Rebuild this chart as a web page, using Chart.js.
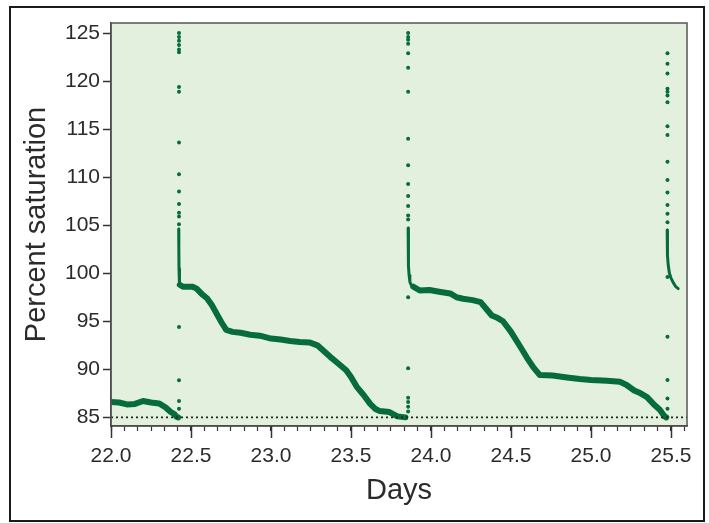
<!DOCTYPE html>
<html>
<head>
<meta charset="utf-8">
<script src="https://cdn.jsdelivr.net/npm/chart.js@4.4.1/dist/chart.umd.min.js"></script>
<style>
  html, body { margin: 0; padding: 0; background: #fff; }
  #wrap { width: 709px; height: 523px; }
</style>
</head>
<body>
<div id="wrap"><canvas id="chart" width="709" height="523"></canvas></div>
<script>
// axis setup
const xMin = 22.0;
const xMax = 25.6;
const yMin = 84.1;
const yMax = 126.05;
const xMajorTicks = [22.0, 22.5, 23.0, 23.5, 24.0, 24.5, 25.0, 25.5];
const yTicks = [85, 90, 95, 100, 105, 110, 115, 120, 125];
const refLevel = 85;

// thick trace: before first spike
const daysA = [22.0, 22.05, 22.1, 22.15, 22.2, 22.25, 22.3, 22.34, 22.37, 22.395, 22.41, 22.42];
const satA = [86.6, 86.55, 86.35, 86.4, 86.7, 86.55, 86.45, 86.05, 85.6, 85.35, 85.05, 85.0];

// thick trace: between spike 1 and spike 2
const daysB = [22.43, 22.45, 22.51, 22.535, 22.57, 22.6, 22.63, 22.66, 22.69, 22.72, 22.76, 22.81,
  22.87, 22.93, 23.0, 23.06, 23.12, 23.18, 23.24, 23.29, 23.33, 23.37, 23.42, 23.47, 23.5,
  23.535, 23.58, 23.62, 23.65, 23.68, 23.74, 23.79, 23.84];
const satB = [98.8, 98.6, 98.6, 98.4, 97.8, 97.4, 96.7, 95.8, 94.9, 94.1, 93.9, 93.8,
  93.6, 93.5, 93.2, 93.1, 92.95, 92.85, 92.8, 92.5, 91.9, 91.3, 90.6, 89.9, 89.2,
  88.2, 87.3, 86.4, 85.9, 85.65, 85.55, 85.1, 85.0];

// thick trace: between spike 2 and spike 3
const daysC = [23.89, 23.93, 23.99, 24.06, 24.12, 24.16, 24.2, 24.26, 24.31, 24.35, 24.38, 24.41,
  24.45, 24.5, 24.56, 24.6, 24.64, 24.68, 24.76, 24.85, 24.93, 25.0, 25.1, 25.18, 25.22,
  25.27, 25.31, 25.35, 25.39, 25.43, 25.46, 25.47];
const satC = [98.6, 98.2, 98.25, 98.05, 97.9, 97.5, 97.35, 97.2, 97.0, 96.2, 95.6, 95.4,
  95.0, 93.9, 92.3, 91.2, 90.2, 89.4, 89.35, 89.15, 89.0, 88.9, 88.8, 88.7, 88.4,
  87.8, 87.5, 87.1, 86.4, 85.8, 85.1, 85.0];

// dense stems of the spikes (thinner)
const stemDays1 = [22.423, 22.424, 22.425, 22.426, 22.43, 22.44];
const stemSat1 = [104.6, 102.5, 100.5, 99.2, 98.8, 98.6];
const stemDays2 = [23.857, 23.858, 23.86, 23.863, 23.868, 23.878, 23.89];
const stemSat2 = [104.7, 102.5, 100.8, 99.8, 99.1, 98.7, 98.5];
const stemDays3 = [25.476, 25.477, 25.479, 25.483, 25.49, 25.5, 25.515, 25.53, 25.545];
const stemSat3 = [104.5, 103.0, 101.8, 100.8, 100.0, 99.5, 99.0, 98.6, 98.4];

// isolated readings on the spikes
const spikeDay1 = 22.425;
const spikeSat1 = [125.0, 124.6, 124.2, 123.75, 123.3, 123.0, 119.4, 118.9, 113.6, 110.3, 108.5,
  107.2, 106.3, 105.9, 105.1, 94.4, 88.85, 86.7, 85.9];
const spikeDay2 = 23.857;
const spikeSat2 = [125.0, 124.6, 124.3, 123.9, 122.9, 121.4, 118.9, 114.0, 111.25, 109.3, 108.05,
  107.0, 106.0, 105.6, 97.5, 90.1, 87.05, 86.6, 86.1, 85.6];
const spikeDay3 = 25.478;
const spikeSat3 = [122.9, 121.8, 120.8, 119.2, 118.9, 118.5, 117.8, 115.3, 114.4, 111.6, 109.7,
  108.4, 107.1, 106.2, 105.3, 99.6, 93.4, 88.9, 86.95, 85.9];

const GREEN = '#066c3b';
const FONT = "'Liberation Sans', Arial, sans-serif";

const toPts = (xs, ys) => xs.map((x, i) => ({ x, y: ys[i] }));
const spikePts = (day, ys) => ys.map((y) => ({ x: day, y }));

function traceSet(xs, ys, width) {
  return {
    data: toPts(xs, ys),
    showLine: true,
    borderColor: GREEN,
    borderWidth: width,
    pointRadius: 0,
    tension: 0,
    borderJoinStyle: 'round',
    borderCapStyle: 'round',
  };
}

function dotSet(day, ys) {
  return {
    data: spikePts(day, ys),
    backgroundColor: GREEN,
    borderWidth: 0,
    pointRadius: 2,
  };
}

const framePlugin = {
  id: 'frame',
  beforeDraw(chart) {
    const { ctx, chartArea: a } = chart;
    ctx.save();
    ctx.fillStyle = '#ffffff';
    ctx.fillRect(0, 0, chart.width, chart.height);
    ctx.fillStyle = '#e3f0dd';
    ctx.fillRect(a.left, a.top, a.right - a.left, a.bottom - a.top);
    ctx.strokeStyle = '#1a1a1a';
    ctx.lineWidth = 2;
    ctx.strokeRect(10, 7, 694, 514);
    ctx.restore();
  },
  afterDraw(chart) {
    const { ctx, chartArea: a } = chart;
    const xs = chart.scales.x;
    ctx.save();
    ctx.strokeStyle = '#555';
    ctx.lineWidth = 1.5;
    ctx.strokeRect(a.left, a.top, a.right - a.left, a.bottom - a.top);
    ctx.strokeStyle = '#333';
    ctx.lineWidth = 1.5;
    xMajorTicks.forEach((v) => {
      const px = Math.round(xs.getPixelForValue(v)) + 0.5;
      ctx.beginPath();
      ctx.moveTo(px, a.bottom);
      ctx.lineTo(px, a.bottom + 12);
      ctx.stroke();
    });
    ctx.restore();
  },
};

new Chart(document.getElementById('chart'), {
  type: 'scatter',
  data: {
    datasets: [
      {
        data: [{ x: xMin, y: refLevel }, { x: xMax, y: refLevel }],
        showLine: true,
        borderColor: '#222',
        borderWidth: 1.6,
        borderDash: [2, 3],
        pointRadius: 0,
      },
      traceSet(daysA, satA, 6),
      traceSet(daysB, satB, 6),
      traceSet(daysC, satC, 6),
      traceSet(stemDays1, stemSat1, 3),
      traceSet(stemDays2, stemSat2, 3),
      traceSet(stemDays3, stemSat3, 3),
      dotSet(spikeDay1, spikeSat1),
      dotSet(spikeDay2, spikeSat2),
      dotSet(spikeDay3, spikeSat3),
    ],
  },
  options: {
    responsive: false,
    animation: false,
    events: [],
    layout: { padding: { left: 0, top: 23, right: 22, bottom: 0 } },
    plugins: {
      legend: { display: false },
      tooltip: { enabled: false },
    },
    scales: {
      x: {
        type: 'linear',
        min: xMin,
        max: xMax,
        afterFit: (scale) => { scale.height = 97; },
        afterBuildTicks: (scale) => {
          const ticks = [];
          for (let k = 0; xMin + k / 12 <= xMax + 1e-9; k++) ticks.push({ value: xMin + k / 12 });
          scale.ticks = ticks;
        },
        grid: {
          drawOnChartArea: false,
          tickLength: 5,
          tickColor: '#333',
          tickWidth: 1.2,
        },
        border: { display: true, color: '#333', width: 1.5 },
        ticks: {
          autoSkip: false,
          maxRotation: 0,
          padding: 13,
          color: '#2b2b2b',
          font: { family: FONT, size: 21 },
          callback: (v) => {
            const major = xMajorTicks.find((m) => Math.abs(m - v) < 1e-6);
            return major === undefined ? '' : major.toFixed(1);
          },
        },
        title: {
          display: true,
          text: 'Days',
          color: '#2b2b2b',
          font: { family: FONT, size: 29 },
          padding: { top: 0, bottom: 15 },
        },
      },
      y: {
        type: 'linear',
        min: yMin,
        max: yMax,
        afterFit: (scale) => { scale.width = 111; },
        afterBuildTicks: (scale) => {
          scale.ticks = yTicks.map((v) => ({ value: v }));
        },
        grid: {
          drawOnChartArea: false,
          tickLength: 8,
          tickColor: '#333',
          tickWidth: 1.5,
        },
        border: { display: true, color: '#333', width: 1.5 },
        ticks: {
          padding: 3,
          color: '#2b2b2b',
          font: { family: FONT, size: 21 },
        },
        title: {
          display: true,
          text: 'Percent saturation',
          color: '#2b2b2b',
          font: { family: FONT, size: 29 },
          padding: { top: 20, bottom: 0 },
        },
      },
    },
  },
  plugins: [framePlugin],
});
</script>
</body>
</html>
